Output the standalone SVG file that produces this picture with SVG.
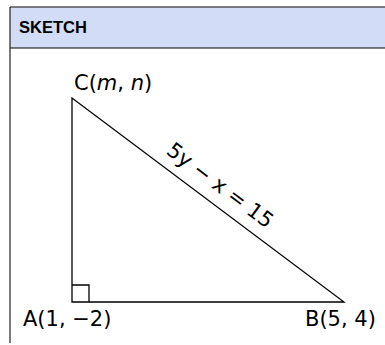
<svg xmlns="http://www.w3.org/2000/svg" width="385" height="345" viewBox="0 0 385 345">
<style>
.frame{fill:none;stroke:#222;stroke-width:1.2}
.tri{fill:none;stroke:#000;stroke-width:1.3}
.lbl{font-family:"DejaVu Sans","Liberation Sans",sans-serif;font-size:21px;fill:#000}
.hdr{font-family:"Liberation Sans","DejaVu Sans",sans-serif;font-size:16.5px;font-weight:bold;fill:#000}
</style>
<rect x="0" y="0" width="385" height="345" fill="#fff"/>
<g id="panel">
<rect x="10" y="7" width="380" height="41" fill="#d2dcf7"/>
<line x1="10" y1="7" x2="385" y2="7" stroke="#555" stroke-width="1.5"/>
<line x1="10" y1="48" x2="385" y2="48" stroke="#000" stroke-width="1.2"/>
<line x1="10" y1="7" x2="10" y2="343" class="frame"/>
<text class="hdr" x="19" y="33">SKETCH</text>
</g>
<g id="connectors">
<polygon class="tri" points="72,98 72,302 344,302"/>
<polyline class="tri" points="72,285 89,285 89,302" stroke-width="1"/>
</g>
<g id="C"><text class="lbl" x="74" y="90">C(<tspan font-style="italic">m</tspan>, <tspan font-style="italic">n</tspan>)</text></g>
<g id="A"><text class="lbl" x="23" y="326">A(1, −2)</text></g>
<g id="B"><text class="lbl" x="305" y="326">B(5, 4)</text></g>
<g id="eq"><text class="lbl" font-size="20" text-anchor="middle" transform="translate(216,191) rotate(36.87)">5y − x = 15</text></g>
</svg>
